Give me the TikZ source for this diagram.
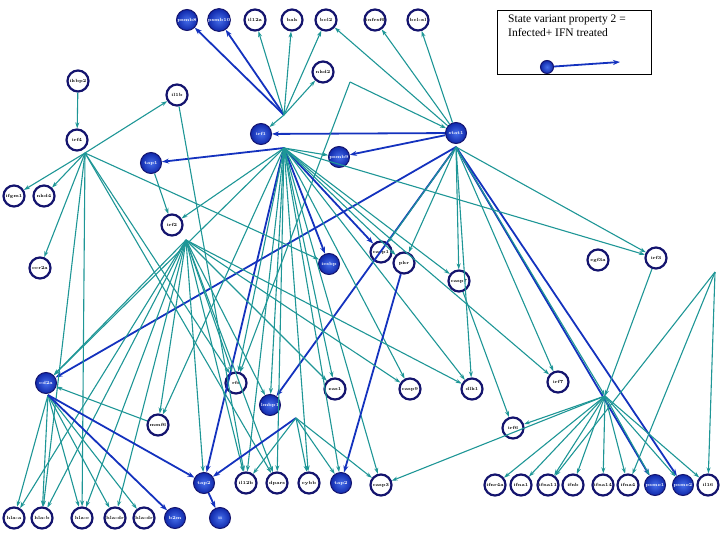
\documentclass[tikz,border=0pt]{standalone}
\usepackage{fontspec}
\newfontfamily\legfont{Liberation Serif}
\usetikzlibrary{arrows.meta}
\begin{document}
\begin{tikzpicture}[x=1pt,y=-1pt,
 every node/.style={circle,minimum size=21pt,inner sep=0pt,font=\fontsize{4.5}{5}\selectfont\bfseries},
 o/.style={draw={rgb,255:red,20;green,20;blue,110},line width=2.2pt,fill=white},
 f/.style={draw={rgb,255:red,20;green,20;blue,110},line width=1pt,inner color={rgb,255:red,70;green,110;blue,235},outer color={rgb,255:red,15;green,40;blue,170},text=white},
 t/.style={draw={rgb,255:red,30;green,150;blue,150},line width=1.1pt,-{Stealth[length=6pt,width=4pt]}},
 b/.style={draw={rgb,255:red,20;green,50;blue,190},line width=1.8pt,-{Stealth[length=7pt,width=5pt]}}]
\useasboundingbox (0,0) rectangle (720,540);
% nodes
\node[f] (psmb8) at (187,20) {psmb8};
\node[f] (psmb10) at (219,20) {psmb10};
\node[o] (il12a) at (255,20) {il12a};
\node[o] (bak) at (292,20) {bak};
\node[o] (bcl2) at (326,20) {bcl2};
\node[o] (tnfrsf6) at (375,20) {tnfrsf6};
\node[o] (bclxl) at (418,20) {bcl-xl};
\node[o] (nkd2) at (323,72) {nkd2};
\node[o] (ikbp2) at (78,81) {ikbp2};
\node[o] (il1b) at (177,95) {il1b};
\node[o] (irf4) at (77,140) {irf4};
\node[f] (irf1) at (261,134) {irf1};
\node[f] (stat1) at (456,133) {stat1};
\node[f] (psmb9) at (339,157) {psmb9};
\node[f] (tap1) at (151,163) {tap1};
\node[o] (ifgm1) at (14,196) {ifgm1};
\node[o] (nkd4) at (44,196) {nkd4};
\node[o] (irf2) at (172,225) {irf2};
\node[o] (ccr2a) at (40,268) {ccr2a};
\node[f] (icsbp) at (329,264) {icsbp};
\node[o] (casp1) at (381,252) {casp1};
\node[o] (pkr) at (404,263) {pkr};
\node[o] (casp7) at (459,281) {casp7};
\node[o] (cgf3a) at (598,260) {cgf3a};
\node[o] (irf3) at (656,258) {irf3};
\node[f] (cd2a) at (46,383) {cd2a};
\node[o] (rfs) at (236,383) {rfs};
\node[f] (lmbp1) at (270,405) {lmbp1};
\node[o] (eas1) at (335,389) {eas1};
\node[o] (casp9) at (410,389) {casp9};
\node[o] (dlk1) at (472,389) {dlk1};
\node[o] (irf7) at (558,382) {irf7};
\node[o] (irf6) at (513,428) {irf6};
\node[o] (mmf6) at (158,425) {mmf6};
\node[f] (tap2b) at (204,483) {tap2};
\node[o] (il12b) at (246,483) {il12b};
\node[o] (dpars) at (277,483) {dpars};
\node[o] (cybb) at (309,483) {cybb};
\node[f] (tap2) at (341,483) {tap2};
\node[o] (casp3) at (381,485) {casp3};
\node[o] (ifnr4a) at (495,485) {ifnr4a};
\node[o] (ifna1) at (521,485) {ifna1};
\node[o] (ifna11) at (548,485) {ifna11};
\node[o] (ifnb) at (573,485) {ifnb};
\node[o] (ifna14) at (603,485) {ifna14};
\node[o] (ifna4) at (628,485) {ifna4};
\node[f] (psme1) at (655,485) {psme1};
\node[f] (psme2) at (683,485) {psme2};
\node[o] (il16) at (708,485) {il16};
\node[o] (hlaa) at (14,518) {hla-a};
\node[o] (hlab) at (42,518) {hla-b};
\node[o] (hlac) at (82,518) {hla-c};
\node[o] (hladr) at (115,518) {hla-dr};
\node[o] (hladq) at (144,518) {hla-dr};
\node[f] (b2m) at (175,518) {b2m};
\node[f] (ii) at (220,518) {ii};
% legend
\node[draw,rectangle,minimum width=154pt,minimum height=64pt,anchor=north west,inner sep=0pt] (leg) at (497,10) {};
\node[draw=none,rectangle,anchor=north west,font=\legfont\fontsize{11.5}{14}\selectfont,align=left,inner sep=0pt,minimum size=0pt] (legt) at (508,15) {State variant property 2 =\\Infected+ IFN treated};
\node[f,minimum size=13pt] (legn) at (547,67) {};
\coordinate (lege) at (620,62);
\draw[b] (legn) -- (lege);
% hubs
\coordinate (h1) at (284,115);
\coordinate (h2) at (284,148);
\coordinate (hs) at (456,147);
\coordinate (h4) at (85,153);
\coordinate (hi2) at (186,240);
\coordinate (hc) at (48,395);
\coordinate (h6) at (605,396);
\coordinate (hl) at (296,418);
\coordinate (hr) at (715,272);
\coordinate (hn) at (350,82);
% irf1 top hub
\foreach \n in {psmb8,psmb10} \draw[b] (h1) -- (\n);
\foreach \n in {il12a,bak,bcl2,nkd2} \draw[t] (h1) -- (\n);
\draw[t] (h1) -- (irf1);
% stat1
\draw[b] (stat1) -- (irf1);
\draw[b] (stat1) -- (psmb9);
\foreach \n in {bcl2,tnfrsf6,bclxl} \draw[t] (stat1) -- (\n);
\draw[t] (hn) -- (stat1);
\draw[t] (hn) -- (rfs);
\foreach \n in {cd2a,lmbp1,psme1,psme2} \draw[b] (hs) -- (\n);
\foreach \n in {irf7,casp7,pkr,dlk1,irf3,casp1} \draw[t] (hs) -- (\n);
\draw[t] (hs) -- (h6);
% irf1 bottom hub
\draw[b] (h2) -- (tap1);
\draw[b] (h2) -- (icsbp);
\draw[b] (h2) -- (casp1);
\draw[b] (h2) -- (tap2b);
\foreach \n in {irf2,rfs,eas1,pkr,casp7,casp9,dlk1,il12b,dpars,cybb,casp3,mmf6,cd2a,irf3,lmbp1,psmb9,irf7,tap2} \draw[t] (h2) -- (\n);
\draw[b] (pkr) -- (tap2);
% irf4
\draw[t] (ikbp2) -- (irf4);
\foreach \n in {ifgm1,nkd4,il1b,ccr2a,rfs,icsbp,hlab,hlac,dpars} \draw[t] (h4) -- (\n);
\draw[t] (il1b) -- (il12b);
% irf2
\foreach \n in {cd2a,mmf6,rfs,lmbp1,eas1,casp9,hlaa,hlab,hlac,hladr,tap2b,il12b,dpars,dlk1} \draw[t] (hi2) -- (\n);
\draw[t] (tap1) -- (irf2);
% cd2a
\foreach \n in {hlaa,hlab,hlac,hladr,hladq} \draw[t] (hc) -- (\n);
\draw[b] (hc) -- (b2m);
\draw[b] (hc) -- (tap2b);
\draw[t] (mmf6) -- (cd2a);
\draw[b] (tap2b) -- (ii);
% lmbp1 hub
\draw[b] (hl) -- (tap2b);
\foreach \n in {il12b,cybb,tap2,casp3} \draw[t] (hl) -- (\n);
% irf6 hub
\foreach \n in {ifnr4a,ifna1,ifna11,ifnb,ifna14,ifna4,psme1,psme2,il16,irf6,casp3} \draw[t] (h6) -- (\n);
\draw[t] (irf3) -- (h6);
\foreach \n in {ifna11,il16,ifna4} \draw[t] (hr) -- (\n);
\draw[t] (casp7) -- (irf6);
\end{tikzpicture}
\end{document}
